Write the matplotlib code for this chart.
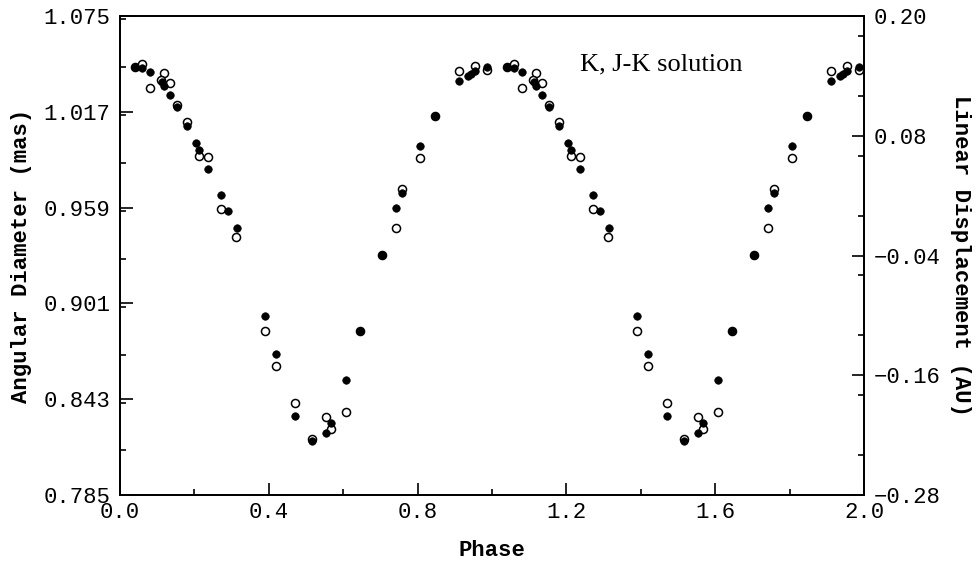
import numpy as np
import matplotlib
matplotlib.use("Agg")
import matplotlib.pyplot as plt
from matplotlib.ticker import MultipleLocator, FormatStrFormatter, FixedLocator, FuncFormatter

# Filled circles (one cycle, phase 0-1)
phase_filled = [0.040, 0.059, 0.081, 0.112, 0.117, 0.134, 0.154, 0.181, 0.205, 0.212,
                0.237, 0.272, 0.290, 0.314, 0.389, 0.419, 0.470, 0.516, 0.554, 0.566,
                0.608, 0.645, 0.704, 0.742, 0.757, 0.806, 0.846, 0.912, 0.936, 0.943,
                0.954, 0.987]
diam_filled = [1.0443, 1.0435, 1.0411, 1.0348, 1.0328, 1.0269, 1.0198, 1.0087, 0.9980, 0.9940,
               0.9825, 0.9665, 0.9572, 0.9465, 0.8935, 0.8702, 0.8329, 0.8178, 0.8223, 0.8283,
               0.8544, 0.8843, 0.9306, 0.9590, 0.9681, 0.9964, 1.0144, 1.0354, 1.0388, 1.0398,
               1.0418, 1.0443]

# Open circles (one cycle, phase 0-1)
phase_open = [0.040, 0.059, 0.080, 0.118, 0.110, 0.135, 0.154, 0.181, 0.212, 0.237,
              0.272, 0.312, 0.389, 0.419, 0.470, 0.516, 0.554, 0.568, 0.608, 0.645,
              0.704, 0.742, 0.757, 0.806, 0.846, 0.912, 0.954, 0.987]
diam_open = [1.0443, 1.0459, 1.0314, 1.0402, 1.0360, 1.0342, 1.0211, 1.0109, 0.9903, 0.9897,
             0.9582, 0.9414, 0.8845, 0.8629, 0.8405, 0.8188, 0.8320, 0.8247, 0.8352, 0.8843,
             0.9306, 0.9469, 0.9703, 0.9893, 1.0144, 1.0417, 1.0445, 1.0423]

left_ticks = [0.785, 0.843, 0.901, 0.959, 1.017, 1.075]
right_ticks = [-0.28, -0.16, -0.04, 0.08, 0.20]
x_ticks = [0.0, 0.4, 0.8, 1.2, 1.6, 2.0]

mono = "Liberation Mono"
fig = plt.figure(figsize=(9.8, 5.61), dpi=100)
ax = fig.add_axes([120/980, 1-495/561, 744/980, 479/561])

pf = np.array(phase_filled)
po = np.array(phase_open)
df = np.array(diam_filled)
do = np.array(diam_open)

ax.plot(np.concatenate([po, po + 1]), np.concatenate([do, do]), 'o', ms=5.8,
        mfc='white', mec='black', mew=1.1, ls='none', zorder=2)
ax.plot(np.concatenate([pf, pf + 1]), np.concatenate([df, df]), 'o', ms=5.4,
        mfc='black', mec='black', mew=0.5, ls='none', zorder=3)

ax.set_xlim(0, 2.0)
ax.set_ylim(0.785, 1.075)
ax.xaxis.set_major_locator(FixedLocator(x_ticks))
ax.xaxis.set_minor_locator(MultipleLocator(0.2))
ax.yaxis.set_major_locator(FixedLocator(left_ticks))
ax.yaxis.set_minor_locator(MultipleLocator(0.029))
ax.xaxis.set_major_formatter(FormatStrFormatter('%.1f'))
ax.yaxis.set_major_formatter(FormatStrFormatter('%.3f'))

ax2 = ax.twinx()
ax2.set_ylim(-0.28, 0.20)
ax2.yaxis.set_major_locator(FixedLocator(right_ticks))
ax2.yaxis.set_minor_locator(MultipleLocator(0.06))
ax2.yaxis.set_major_formatter(FuncFormatter(lambda v, p: ('%.2f' % v).replace('-', '\u2212')))

for a in (ax, ax2):
    for s in a.spines.values():
        s.set_linewidth(1.3)
    a.tick_params(which='major', direction='in', length=9, width=1.2, labelsize=16, pad=7)
    a.tick_params(which='minor', direction='in', length=4.5, width=1.2)
ax.tick_params(axis='both', which='both', top=False, right=False)
ax.tick_params(axis='x', pad=5)
ax2.tick_params(which='both', left=False)

for lab in ax.get_xticklabels() + ax.get_yticklabels() + ax2.get_yticklabels():
    lab.set_fontfamily(mono)

ax.set_xlabel('Phase', fontfamily=mono, fontweight='bold', fontsize=16, labelpad=12)
ax.set_ylabel('Angular Diameter (mas)', fontfamily=mono, fontweight='bold', fontsize=16, labelpad=8)
ax2.set_ylabel('Linear Displacement (AU)', fontfamily=mono, fontweight='bold', fontsize=16,
               rotation=-90, labelpad=22)

ax.text(0.618, 0.887, 'K, J-K solution', transform=ax.transAxes, ha='left', va='baseline',
        fontfamily='Liberation Serif', fontsize=19)

fig.savefig('out.png', dpi=100)
